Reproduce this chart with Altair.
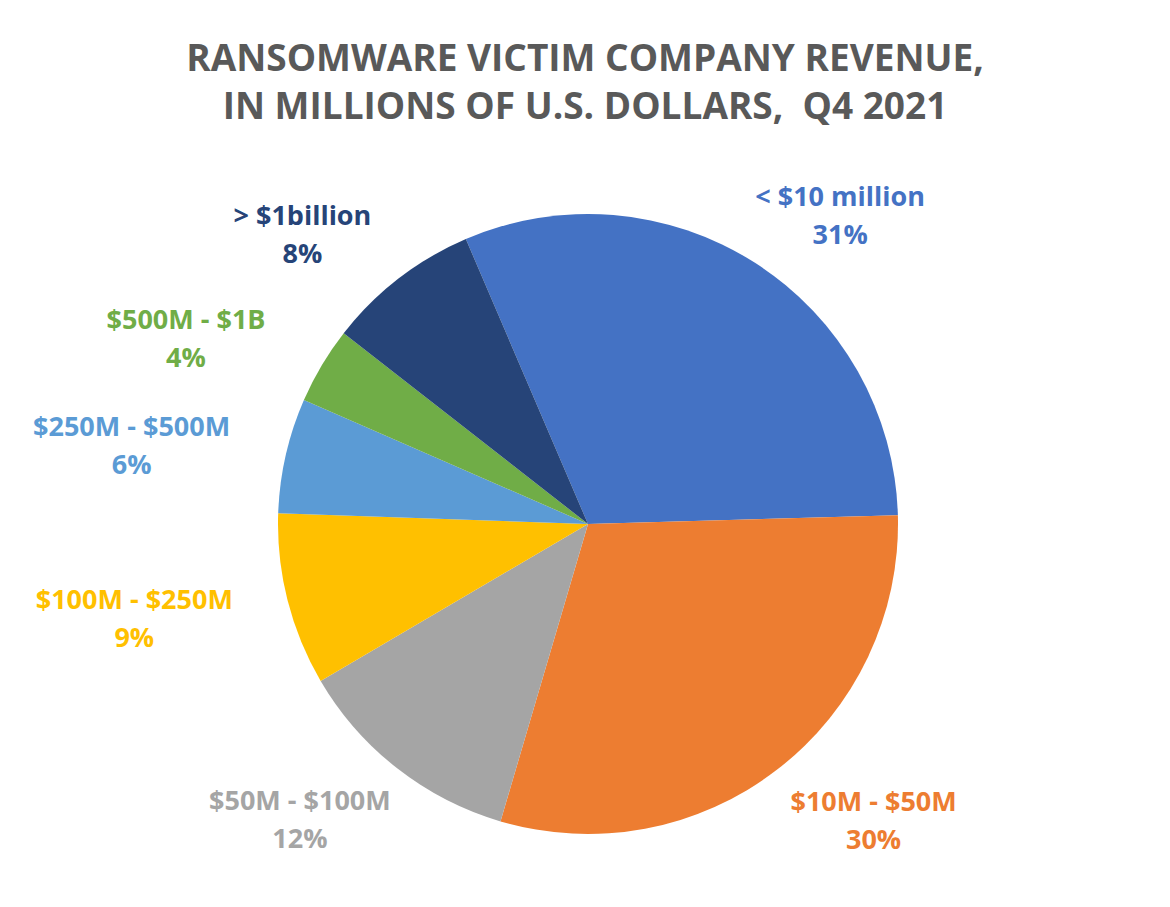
import math
import altair as alt
import pandas as pd

categories = ["< $10 million", "$10M - $50M", "$50M - $100M", "$100M - $250M",
              "$250M - $500M", "$500M - $1B", "> $1billion"]
shares = [31, 30, 12, 9, 6, 4, 8]
colors = ["#4472C4", "#ED7D31", "#A5A5A5", "#FFC000", "#5B9BD5", "#70AD47", "#264478"]

df = pd.DataFrame({
    "category": categories,
    "share": shares,
    "order": list(range(len(categories))),
})
df["label"] = df["category"] + "\n" + df["share"].astype(str) + "%"

START = -0.405  # rotation of the first slice, radians
color_scale = alt.Scale(domain=categories, range=colors)

CX, CY = 580, 387   # pie centre inside the plot area
R = 310             # pie radius
RX, RY = 468, 370   # label ellipse radii

shadow = alt.Chart(pd.DataFrame({"share": [1]})).mark_arc(
    radius=R + 1, color="#000000", opacity=0.08
).encode(
    theta=alt.Theta("share:Q"),
    x=alt.value(CX + 3), y=alt.value(CY + 5),
)

pie = alt.Chart(df).mark_arc(radius=R, thetaOffset=START, theta2Offset=START).encode(
    theta=alt.Theta("share:Q", stack=True),
    order=alt.Order("order:Q"),
    color=alt.Color("category:N", scale=color_scale, legend=None),
    x=alt.value(CX), y=alt.value(CY),
)

labels = alt.Chart(df).transform_window(
    cum="sum(share)", sort=[alt.SortField("order")], frame=[None, 0]
).transform_joinaggregate(
    total="sum(share)"
).transform_calculate(
    ang=f"{START} + 2 * PI * (datum.cum - datum.share / 2) / datum.total"
).transform_calculate(
    lx=f"{CX} + {RX} * sin(datum.ang)",
    ly=f"{CY} - {RY} * cos(datum.ang)",
).mark_text(
    font="Open Sans", fontWeight="bold", fontSize=27, dy=-14,
    lineBreak="\n", lineHeight=38, align="center", baseline="middle"
).encode(
    x=alt.X("lx:Q", scale=None, axis=None),
    y=alt.Y("ly:Q", scale=None, axis=None),
    color=alt.Color("category:N", scale=color_scale, legend=None),
    text="label:N",
)

chart = alt.layer(shadow, pie, labels).properties(
    width=1154, height=891,
    autosize=alt.AutoSizeParams(type="fit", contains="padding"),
    padding={"top": 33, "left": 0, "right": 0, "bottom": 0},
    title=alt.TitleParams(
        text=["RANSOMWARE VICTIM COMPANY REVENUE,", "IN MILLIONS OF U.S. DOLLARS,\u00a0 Q4 2021"],
        font="Open Sans", fontSize=37, fontWeight="bold", color="#595959",
        lineHeight=48, anchor="middle", offset=10,
    ),
).configure_view(stroke=None)

chart.save("out.html", embed_options={"renderer": "svg", "actions": False})
